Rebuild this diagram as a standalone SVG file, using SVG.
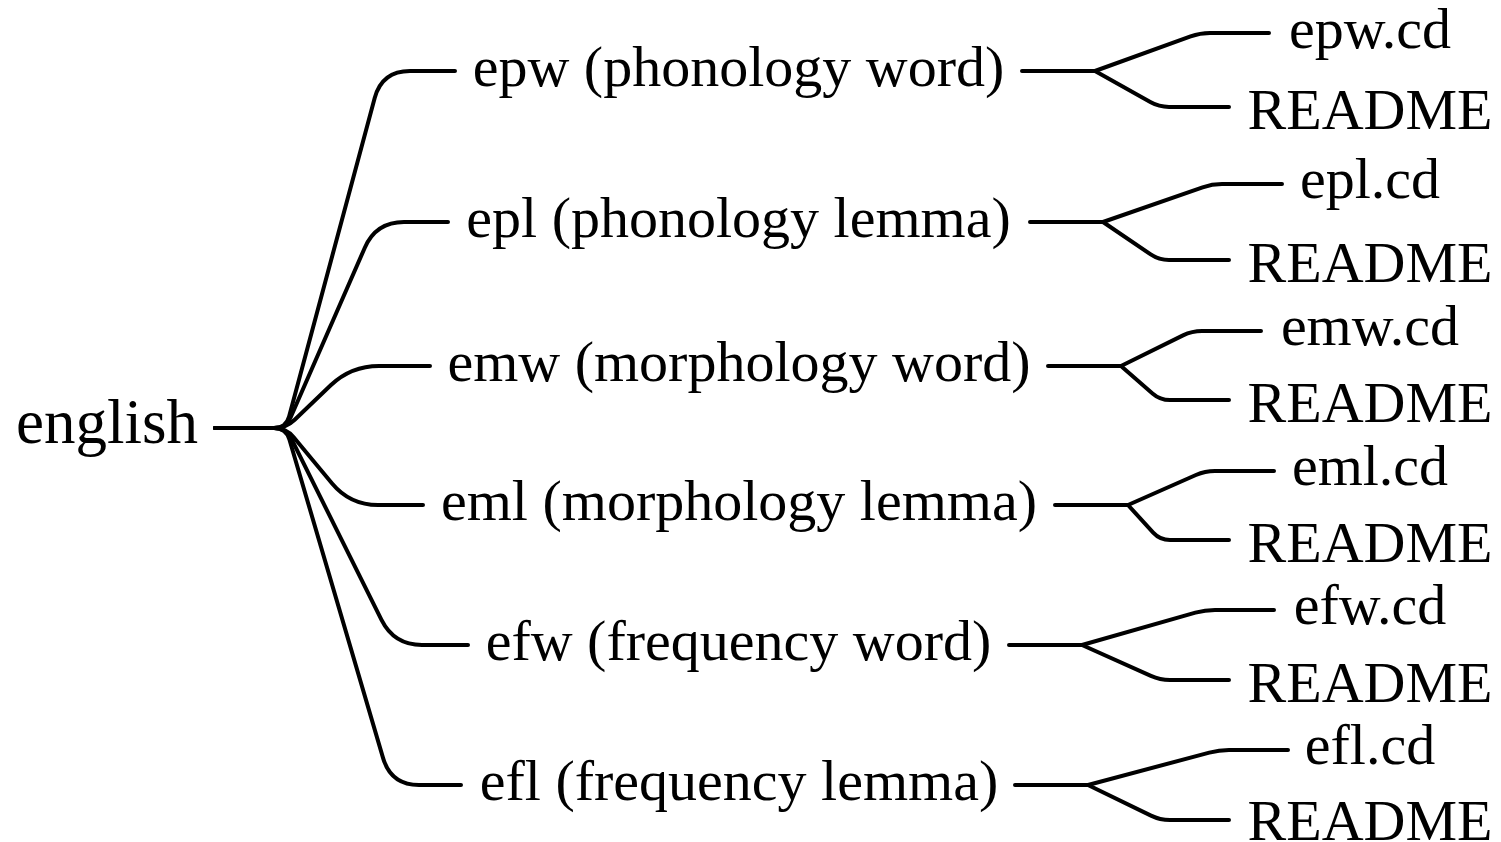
<svg xmlns="http://www.w3.org/2000/svg" width="1501" height="842" viewBox="0 0 1501 842">
<style>
.t{font-family:"Liberation Serif","Times New Roman",serif;font-size:58px;fill:#000}
.mid{text-anchor:middle}
.root{font-size:63px}
.c{fill:none;stroke:#000;stroke-width:4;stroke-linecap:round;stroke-linejoin:round}
</style>
<rect width="1501" height="842" fill="#fff"/>
<g id="connectors">
<path class="c" d="M215,428 H274 Q286,428 289.1,416.4 L374.7,98 Q382,71 410,71 H455"/>
<path class="c" d="M215,428 H274 Q286,428 290.8,417 L364.8,247.7 Q376,222 404,222 H448"/>
<path class="c" d="M215,428 H274 Q286,428 294.7,419.7 L330.7,385.3 Q351,366 379,366 H430"/>
<path class="c" d="M215,428 H274 Q286,428 293.7,437.2 L332.1,483.5 Q350,505 378,505 H423"/>
<path class="c" d="M215,428 H274 Q286,428 291.3,438.7 L381.5,619.9 Q394,645 422,645 H468"/>
<path class="c" d="M215,428 H274 Q286,428 289.4,439.5 L383.1,758.1 Q391,785 419,785 H461"/>

<path class="c" d="M1022,71 H1095 L1190.6,36.4 Q1200,33 1210,33 H1269"/>
<path class="c" d="M1095,71 L1150.3,102.1 Q1159,107 1169,107 H1229"/>
<path class="c" d="M1030,222 H1103 L1202.6,187.3 Q1212,184 1222,184 H1282"/>
<path class="c" d="M1103,222 L1150.7,254.4 Q1159,260 1169,260 H1229"/>
<path class="c" d="M1048,366 H1121 L1183,335.4 Q1192,331 1202,331 H1261"/>
<path class="c" d="M1121,366 L1152.5,393.4 Q1160,400 1170,400 H1229"/>
<path class="c" d="M1055,505 H1128 L1195.9,475 Q1205,471 1215,471 H1274"/>
<path class="c" d="M1128,505 L1153.2,532.6 Q1160,540 1170,540 H1229"/>
<path class="c" d="M1009,645 H1082 L1195.4,612.7 Q1205,610 1215,610 H1274"/>
<path class="c" d="M1082,645 L1150.9,675.9 Q1160,680 1170,680 H1229"/>
<path class="c" d="M1015,785 H1088 L1209.3,752.6 Q1219,750 1229,750 H1288"/>
<path class="c" d="M1088,785 L1151,815.6 Q1160,820 1170,820 H1229"/>
</g>
<g id="n-english"><text class="t root" x="16" y="443">english</text></g>
<g id="n-epw"><text class="t mid" x="738.5" y="86">epw (phonology word)</text></g>
<g id="n-epl"><text class="t mid" x="738.5" y="237">epl (phonology lemma)</text></g>
<g id="n-emw"><text class="t mid" x="739" y="381">emw (morphology word)</text></g>
<g id="n-eml"><text class="t mid" x="739" y="520">eml (morphology lemma)</text></g>
<g id="n-efw"><text class="t mid" x="738.5" y="660">efw (frequency word)</text></g>
<g id="n-efl"><text class="t mid" x="739" y="800">efl (frequency lemma)</text></g>
<g id="n-epw-cd"><text class="t mid" x="1370" y="48">epw.cd</text></g>
<g id="n-epw-readme"><text class="t mid" x="1370" y="129">README</text></g>
<g id="n-epl-cd"><text class="t mid" x="1370" y="198">epl.cd</text></g>
<g id="n-epl-readme"><text class="t mid" x="1370" y="282">README</text></g>
<g id="n-emw-cd"><text class="t mid" x="1370" y="345">emw.cd</text></g>
<g id="n-emw-readme"><text class="t mid" x="1370" y="422">README</text></g>
<g id="n-eml-cd"><text class="t mid" x="1370" y="485">eml.cd</text></g>
<g id="n-eml-readme"><text class="t mid" x="1370" y="562">README</text></g>
<g id="n-efw-cd"><text class="t mid" x="1370" y="624">efw.cd</text></g>
<g id="n-efw-readme"><text class="t mid" x="1370" y="702">README</text></g>
<g id="n-efl-cd"><text class="t mid" x="1370" y="764">efl.cd</text></g>
<g id="n-efl-readme"><text class="t mid" x="1370" y="840">README</text></g>
</svg>
